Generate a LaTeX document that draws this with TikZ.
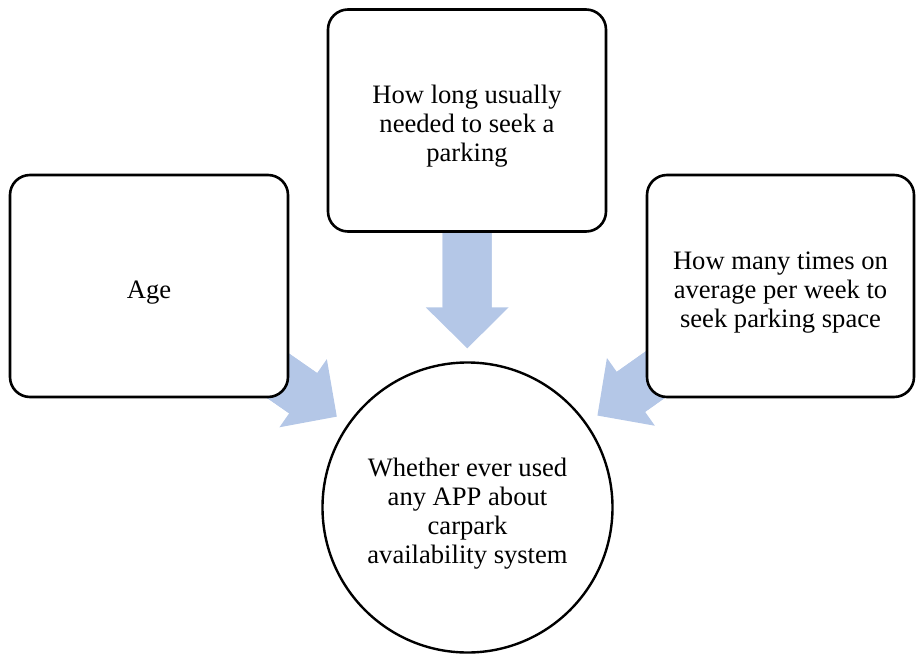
\documentclass[tikz,border=0pt]{standalone}
\usepackage{fontspec}
\setmainfont{Liberation Serif}
\usetikzlibrary{arrows.meta, positioning, backgrounds}
\definecolor{ArrowBlue}{HTML}{B4C7E7}
\newcommand{\tstrut}{\rule{0pt}{30pt}}

\begin{document}
\begin{tikzpicture}[
    x=1pt, y=-1pt,
    factor/.style={rectangle, rounded corners=20pt, draw, line width=2.6pt, fill=white, minimum width=278pt, minimum height=222pt, align=center, font=\fontsize{26.6}{29}\selectfont},
    outcome/.style={circle, draw, line width=2.4pt, fill=white, minimum size=290pt, align=center, font=\fontsize{26.6}{29}\selectfont},
    arrow/.style={-{Triangle[width=83pt, length=41pt, line width=0pt]}, line width=49pt, draw=ArrowBlue, shorten >=13pt},
    shaft/.style={line width=49pt, draw=ArrowBlue, shorten >=45pt}
]
\useasboundingbox (0,0) rectangle (916,656);

\node[factor] (q1) at (149,286) {\tstrut Age};
\node[factor] (q2) at (467,120.5) {\tstrut How long usually\\needed to seek a\\parking};
\node[factor, minimum width=267pt] (q3) at (780.5,286) {\tstrut How many times on\\average per week to\\seek parking space};
\node[outcome] (used) at (467.5,507.5) {\tstrut Whether ever used\\any APP about\\carpark\\availability system};

\begin{scope}[on background layer]
\draw[arrow] (q1.center) -- (used);
\draw[arrow] (q2.center) -- (used);
\draw[arrow] (q3.center) -- (used);
\draw[shaft] (q1.center) -- (used);
\draw[shaft] (q2.center) -- (used);
\draw[shaft] (q3.center) -- (used);
\end{scope}
\end{tikzpicture}
\end{document}
